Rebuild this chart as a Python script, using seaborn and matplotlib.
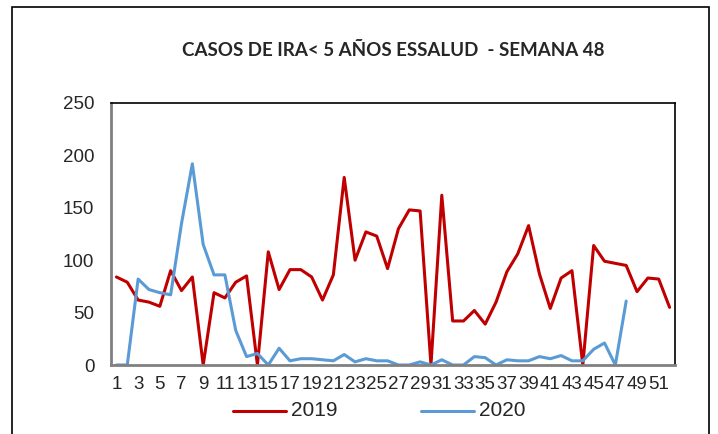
import pandas as pd
import matplotlib
matplotlib.use("Agg")
import matplotlib.pyplot as plt
import seaborn as sns
from matplotlib.patches import Rectangle

semanas = list(range(1, 53))
casos_2019 = [84, 79, 62, 60, 56, 90, 71, 84, 0, 69, 64, 79, 85, 0, 108, 72,
              91, 91, 84, 62, 86, 179, 100, 127, 123, 92, 130, 148, 147, 0,
              162, 42, 42, 52, 39, 60, 89, 106, 133, 87, 54, 83, 90, 0, 114,
              99, 97, 95, 70, 83, 82, 55]
casos_2020 = [0, 0, 82, 72, 69, 67, 135, 192, 115, 86, 86, 33, 8, 11, 0, 16,
              4, 6, 6, 5, 4, 10, 3, 6, 4, 4, 0, 0, 3, 0, 5, 0, 0, 8, 7, 0, 5,
              4, 4, 8, 6, 9, 4, 4, 15, 21, 0, 61]

df = pd.DataFrame({
    "semana": semanas * 2,
    "casos": casos_2019 + casos_2020 + [None] * (len(semanas) - len(casos_2020)),
    "anio": ["2019"] * len(semanas) + ["2020"] * len(semanas),
})

sns.set_style("white")
plt.rcParams["font.family"] = ["Liberation Sans", "DejaVu Sans"]

fig = plt.figure(figsize=(7.18, 4.34), dpi=100)
ax = fig.add_axes([111 / 718, 1 - 365 / 434, 564 / 718, 262 / 434])

sns.lineplot(data=df, x="semana", y="casos", hue="anio",
             palette={"2019": "#C00000", "2020": "#5B9BD5"},
             linewidth=2.2, ax=ax, legend=False)

ax.set_xlim(0.5, 52.5)
ax.set_ylim(0, 250)
ax.set_yticks(range(0, 251, 50))
ax.set_xticks(semanas[::2])
ax.set_xticklabels([str(s) for s in semanas[::2]], fontsize=13.5)
ax.tick_params(axis="y", labelsize=13.5, length=0, pad=12)
ax.tick_params(axis="x", length=0, pad=8)
ax.set_xlabel("")
ax.set_ylabel("")

for side in ["top", "right"]:
    ax.spines[side].set_color("black")
    ax.spines[side].set_linewidth(1.2)
for side in ["left", "bottom"]:
    ax.spines[side].set_color("#808080")
    ax.spines[side].set_linewidth(2)

fig.text(393 / 718, 1 - 50 / 434, "CASOS DE IRA< 5 AÑOS ESSALUD  - SEMANA 48",
         ha="center", va="center", fontsize=13.5, fontweight="bold",
         family=["Lato", "DejaVu Sans"])

# leyenda abajo
fig.lines.append(plt.Line2D([233 / 718, 286 / 718], [1 - 411 / 434] * 2,
                            color="#C00000", lw=2.2, transform=fig.transFigure))
fig.text(291 / 718, 1 - 411 / 434, "2019", ha="left", va="center", fontsize=15)
fig.lines.append(plt.Line2D([421 / 718, 474 / 718], [1 - 411 / 434] * 2,
                            color="#5B9BD5", lw=2.2, transform=fig.transFigure))
fig.text(479 / 718, 1 - 411 / 434, "2020", ha="left", va="center", fontsize=15)

# marco exterior del grafico
fig.patches.append(Rectangle((12 / 718, -0.05), (709 - 12) / 718, 1.05 - 7 / 434,
                             transform=fig.transFigure, fill=False,
                             edgecolor="black", lw=1.2))

fig.savefig("out.png", dpi=100)
